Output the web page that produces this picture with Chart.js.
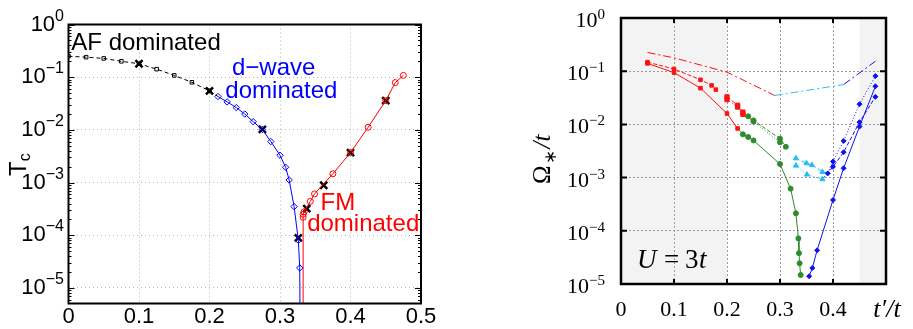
<!DOCTYPE html>
<html>
<head>
<meta charset="utf-8">
<script src="https://cdn.jsdelivr.net/npm/chart.js@4"></script>
<style>
  body { margin: 0; background: #fff; width: 913px; height: 329px; overflow: hidden; position: relative; }
  #leftChart { position: absolute; left: 0; top: 0; }
  #rightChart { position: absolute; left: 520px; top: 0; }
</style>
</head>
<body>
<canvas id="leftChart" width="460" height="329"></canvas>
<canvas id="rightChart" width="393" height="329"></canvas>
<script>
// ---- left panel: Tc against t'/t ----
const leftXTicks = [0, 0.1, 0.2, 0.3, 0.4, 0.5];
const rightXTicks = [0, 0.1, 0.2, 0.3, 0.4];
const decadeTicks = [1, 0.1, 0.01, 0.001, 0.0001, 0.00001];
const decadeExps = ['0', '\u22121', '\u22122', '\u22123', '\u22124', '\u22125'];

const afX = [0, 0.025, 0.05, 0.075, 0.1, 0.125, 0.15, 0.175, 0.2, 0.212];
const afY = [0.25, 0.24, 0.227, 0.2, 0.18, 0.142, 0.108, 0.08, 0.055, 0.043];
const dwaveX = [0.212, 0.225, 0.238, 0.25, 0.262, 0.275, 0.287, 0.3, 0.308, 0.313, 0.32, 0.326, 0.328, 0.329];
const dwaveY = [0.043, 0.034, 0.0265, 0.02, 0.0143, 0.0102, 0.006, 0.0033, 0.00195, 0.00112, 0.00035, 0.00008, 0.000024, 1e-7];
const fmX = [0.333, 0.3328, 0.3328, 0.3342, 0.343, 0.349, 0.375, 0.4, 0.425, 0.45, 0.4635, 0.475];
const fmY = [1e-7, 0.00022, 0.00025, 0.00028, 0.00044, 0.00061, 0.00147, 0.0037, 0.0112, 0.036, 0.079, 0.108];
const crossX = [0.1, 0.2, 0.275, 0.326, 0.338, 0.362, 0.4, 0.45];
const crossY = [0.18, 0.055, 0.0102, 0.000089, 0.00032, 0.00089, 0.0037, 0.036];

// ---- right panel: Omega*/t against t'/t ----
const ddRedX = [0.05, 0.1, 0.2, 0.29];
const ddRedY = [0.225, 0.178, 0.096, 0.035];
const ddCyanX = [0.29, 0.42];
const ddCyanY = [0.035, 0.056];
const ddBlueX = [0.42, 0.48];
const ddBlueY = [0.056, 0.154];
const redSolidX = [0.05, 0.1, 0.15, 0.2, 0.22];
const redSolidY = [0.14, 0.094, 0.048, 0.016, 0.0084];
const redDashX = [0.05, 0.1, 0.15, 0.171, 0.179];
const redDashY = [0.148, 0.11, 0.069, 0.054, 0.045];
const redUpX = [0.2, 0.22, 0.23];
const redUpY = [0.0329, 0.0229, 0.017];
const redDotX = [0.2, 0.22, 0.23];
const redDotY = [0.0292, 0.0212, 0.0155];
const greenDashX = [0.23, 0.24, 0.25, 0.3, 0.311];
const greenDashY = [0.017, 0.0142, 0.0119, 0.0054, 0.0038];
const greenDotX = [0.23, 0.25, 0.3];
const greenDotY = [0.0155, 0.0113, 0.0046];
const greenSolidX = [0.22, 0.23, 0.24, 0.25, 0.3, 0.32, 0.33, 0.3347, 0.3358, 0.337, 0.339];
const greenSolidY = [0.0084, 0.0065, 0.0058, 0.005, 0.0018, 0.00062, 0.000213, 0.000072, 0.000038, 0.0000245, 0.0000148];
const cyanTriX = [0.33, 0.35, 0.36, 0.38];
const cyanTriY = [0.0023, 0.00186, 0.00173, 0.00128];
const cyanDotX = [0.33, 0.351, 0.38];
const cyanDotY = [0.00168, 0.00114, 0.00093];
const blueDotX = [0.38, 0.39, 0.4, 0.42, 0.45, 0.48];
const blueDotY = [0.00128, 0.0012, 0.002, 0.0049, 0.024, 0.081];
const blueDashX = [0.38, 0.4, 0.42, 0.45, 0.48];
const blueDashY = [0.00093, 0.0016, 0.003, 0.011, 0.033];
const blueSolidX = [0.355, 0.361, 0.37, 0.4, 0.42, 0.45, 0.48];
const blueSolidY = [0.000014, 0.00002, 0.000043, 0.00038, 0.0015, 0.0091, 0.052];

function pts(xs, ys) {
  return xs.map((x, i) => ({ x: x, y: ys[i] }));
}

function line(xs, ys, color, dash, style, r, hollow, hide) {
  hide = hide || [];
  return {
    data: pts(xs, ys),
    borderColor: color,
    backgroundColor: color,
    borderWidth: 1,
    borderDash: dash,
    tension: 0,
    pointStyle: style,
    pointRadius: (c) => hide.includes(c.dataIndex) || c.raw.y < 1e-6 ? 0 : r,
    pointBorderColor: color,
    pointBackgroundColor: hollow ? 'rgba(0,0,0,0)' : color,
    pointBorderWidth: 1
  };
}

const sans = 'Liberation Sans, Arial, sans-serif';
const serif = 'Liberation Serif, Times New Roman, serif';

function powerLabels(ctx, scale, right, baseFont, expFont, baseDy, expDy) {
  ctx.fillStyle = '#000';
  ctx.textAlign = 'left';
  ctx.textBaseline = 'alphabetic';
  decadeTicks.forEach((v, i) => {
    const py = scale.getPixelForValue(v);
    ctx.font = expFont;
    const ew = ctx.measureText(decadeExps[i]).width;
    ctx.font = baseFont;
    const bw = ctx.measureText('10').width;
    ctx.fillText('10', right - ew - bw, py + baseDy);
    ctx.font = expFont;
    ctx.fillText(decadeExps[i], right - ew, py + expDy);
  });
}

const leftDecor = {
  id: 'leftDecor',
  afterDraw(chart) {
    const { ctx, chartArea: a, scales: { x, y } } = chart;
    ctx.save();
    ctx.strokeStyle = '#000';
    ctx.lineWidth = 1;
    for (let e = -6; e <= 0; e++) {
      for (let k = 1; k < 10; k++) {
        const v = k * Math.pow(10, e);
        if (v < y.min || v > y.max * 1.0001) continue;
        const py = Math.round(y.getPixelForValue(v)) + 0.5;
        const len = k === 1 ? 6 : 3;
        ctx.beginPath();
        ctx.moveTo(a.left, py); ctx.lineTo(a.left + len, py);
        ctx.moveTo(a.right, py); ctx.lineTo(a.right - len, py);
        ctx.stroke();
      }
    }
    ctx.lineWidth = 2;
    ctx.strokeRect(a.left, a.top, a.right - a.left, a.bottom - a.top);

    powerLabels(ctx, y, 64, '22px ' + sans, '16px ' + sans, 6, -4);

    // Tc axis title
    ctx.save();
    ctx.translate(26, 176);
    ctx.rotate(-Math.PI / 2);
    ctx.font = '24px ' + sans;
    ctx.fillText('T', 0, 0);
    const tw = ctx.measureText('T').width;
    ctx.font = '16px ' + sans;
    ctx.fillText('c', tw, 4);
    ctx.restore();

    const notes = [
      ['AF dominated', 0.004, 0.327, '#000', 'left'],
      ['d\u2212wave', 0.291, 0.109, '#0000ff', 'center'],
      ['dominated', 0.302, 0.0407, '#0000ff', 'center'],
      ['FM', 0.382, 0.000306, '#ff0000', 'center'],
      ['dominated', 0.418, 0.000122, '#ff0000', 'center']
    ];
    ctx.font = '24px ' + sans;
    notes.forEach(n => {
      ctx.fillStyle = n[3];
      ctx.textAlign = n[4];
      ctx.fillText(n[0], x.getPixelForValue(n[1]), y.getPixelForValue(n[2]));
    });
    ctx.restore();
  }
};

const rightDecor = {
  id: 'rightDecor',
  beforeDraw(chart) {
    const { ctx, chartArea: a, scales: { x } } = chart;
    ctx.save();
    ctx.fillStyle = '#f3f3f3';
    const x1 = x.getPixelForValue(0.2);
    const x2 = x.getPixelForValue(0.45);
    ctx.fillRect(a.left, a.top, x1 - a.left, a.bottom - a.top);
    ctx.fillRect(x2, a.top, a.right - x2, a.bottom - a.top);
    ctx.restore();
  },
  afterDraw(chart) {
    const { ctx, chartArea: a, scales: { x, y } } = chart;
    ctx.save();
    ctx.strokeStyle = '#000';
    ctx.lineWidth = 2;
    ctx.beginPath();
    rightXTicks.forEach(v => {
      const px = x.getPixelForValue(v);
      ctx.moveTo(px, a.top); ctx.lineTo(px, a.top + 5);
      ctx.moveTo(px, a.bottom); ctx.lineTo(px, a.bottom - 5);
    });
    decadeTicks.forEach(v => {
      const py = y.getPixelForValue(v);
      ctx.moveTo(a.left, py); ctx.lineTo(a.left + 6, py);
      ctx.moveTo(a.right, py); ctx.lineTo(a.right - 6, py);
    });
    ctx.stroke();
    ctx.lineWidth = 2.5;
    ctx.strokeRect(a.left, a.top, a.right - a.left, a.bottom - a.top);

    powerLabels(ctx, y, 85, '22px ' + serif, '15px ' + serif, 9, 1);

    // y title: Omega_* / t
    ctx.save();
    ctx.translate(30, 184);
    ctx.rotate(-Math.PI / 2);
    ctx.textAlign = 'left';
    ctx.font = '25px ' + serif;
    ctx.fillText('\u03A9', 0, 0);
    let w = ctx.measureText('\u03A9').width + 1;
    ctx.font = '17px ' + serif;
    ctx.fillText('\u2217', w, 6);
    w += ctx.measureText('\u2217').width + 2;
    ctx.font = 'italic 25px ' + serif;
    ctx.fillText('/t', w, 0);
    ctx.restore();

    // x title
    ctx.font = 'italic 26px ' + serif;
    ctx.textAlign = 'center';
    ctx.fillText('t\u2032/t', 367, 317);

    // U = 3t
    ctx.textAlign = 'left';
    const bx = a.left + 16, by = a.bottom - 16;
    ctx.font = 'italic 27px ' + serif;
    ctx.fillText('U', bx, by);
    ctx.font = '27px ' + serif;
    ctx.fillText('=', bx + 27, by);
    ctx.fillText('3', bx + 48, by);
    ctx.font = 'italic 27px ' + serif;
    ctx.fillText('t', bx + 62, by);
    ctx.restore();
  }
};

new Chart(document.getElementById('leftChart'), {
  type: 'line',
  data: {
    datasets: [
      line(afX, afY, '#000', [4, 3], 'rect', 2.5, true, [afX.length - 1]),
      line(dwaveX, dwaveY, '#0000ff', [], 'rectRot', 3.2, true),
      line(fmX, fmY, '#ff0000', [], 'circle', 3, true),
      Object.assign(line(crossX, crossY, '#000', [], 'crossRot', 5, true),
        { showLine: false, pointBorderWidth: 2.5 })
    ]
  },
  options: {
    responsive: false,
    animation: false,
    layout: { padding: { top: 24.5, right: 39, left: 0, bottom: 0 } },
    plugins: { legend: { display: false }, tooltip: { enabled: false } },
    scales: {
      x: {
        type: 'linear', min: 0, max: 0.5,
        afterBuildTicks: s => { s.ticks = leftXTicks.map(v => ({ value: v })); },
        afterFit: s => { s.height = 25.5; },
        ticks: { color: '#000', font: { family: sans, size: 22 }, padding: 0, maxRotation: 0,
          callback: v => String(v) },
        grid: { color: '#b4b4b4', drawTicks: false },
        border: { display: false, dash: [1, 3] }
      },
      y: {
        type: 'logarithmic', min: 5.07e-6, max: 1,
        afterBuildTicks: s => { s.ticks = decadeTicks.map(v => ({ value: v })); },
        afterFit: s => { s.width = 68.5; },
        ticks: { display: false },
        grid: { color: '#b4b4b4', drawTicks: false },
        border: { display: false, dash: [1, 3] }
      }
    }
  },
  plugins: [leftDecor]
});

const red = '#ff1010', green = '#2e8b2e', cyan = '#22bff5', blue = '#1010f0';

new Chart(document.getElementById('rightChart'), {
  type: 'line',
  data: {
    datasets: [
      line(ddRedX, ddRedY, red, [8, 3, 2, 3], 'circle', 0, false),
      line(ddCyanX, ddCyanY, cyan, [8, 3, 2, 3], 'circle', 0, false),
      line(ddBlueX, ddBlueY, blue, [8, 3, 2, 3], 'circle', 0, false),
      line(redSolidX, redSolidY, red, [], 'rect', 2.5, false),
      line(redDashX, redDashY, red, [4, 2], 'rect', 2.5, false),
      line(redUpX, redUpY, red, [4, 2], 'rect', 3, false),
      line(redDotX, redDotY, red, [1, 2], 'rect', 3, false),
      line(greenDashX, greenDashY, green, [4, 2], 'circle', 2.5, false, [0]),
      line(greenDotX, greenDotY, green, [1, 2], 'circle', 2.5, false, [0]),
      line(greenSolidX, greenSolidY, green, [], 'circle', 2.5, false, [0]),
      line(cyanTriX, cyanTriY, cyan, [4, 2], 'triangle', 3, false),
      line(cyanDotX, cyanDotY, cyan, [1, 2], 'triangle', 3, false),
      line(blueDotX, blueDotY, blue, [1, 2], 'rectRot', 2.5, false, [0]),
      line(blueDashX, blueDashY, blue, [4, 2], 'rectRot', 2.5, false, [0]),
      line(blueSolidX, blueSolidY, blue, [], 'rectRot', 2.5, false)
    ]
  },
  options: {
    responsive: false,
    animation: false,
    layout: { padding: { top: 18, right: 27, left: 0, bottom: 0 } },
    plugins: { legend: { display: false }, tooltip: { enabled: false } },
    scales: {
      x: {
        type: 'linear', min: 0, max: 0.5,
        afterBuildTicks: s => { s.ticks = rightXTicks.map(v => ({ value: v })); },
        afterFit: s => { s.height = 45; },
        ticks: { color: '#000', font: { family: serif, size: 22 }, padding: 13, maxRotation: 0,
          callback: v => String(v) },
        grid: { color: '#9a9a9a', drawTicks: false },
        border: { display: false, dash: [2, 2] }
      },
      y: {
        type: 'logarithmic', min: 1e-5, max: 1,
        afterBuildTicks: s => { s.ticks = decadeTicks.map(v => ({ value: v })); },
        afterFit: s => { s.width = 101; },
        ticks: { display: false },
        grid: { color: '#9a9a9a', drawTicks: false },
        border: { display: false, dash: [2, 2] }
      }
    }
  },
  plugins: [rightDecor]
});
</script>
</body>
</html>
